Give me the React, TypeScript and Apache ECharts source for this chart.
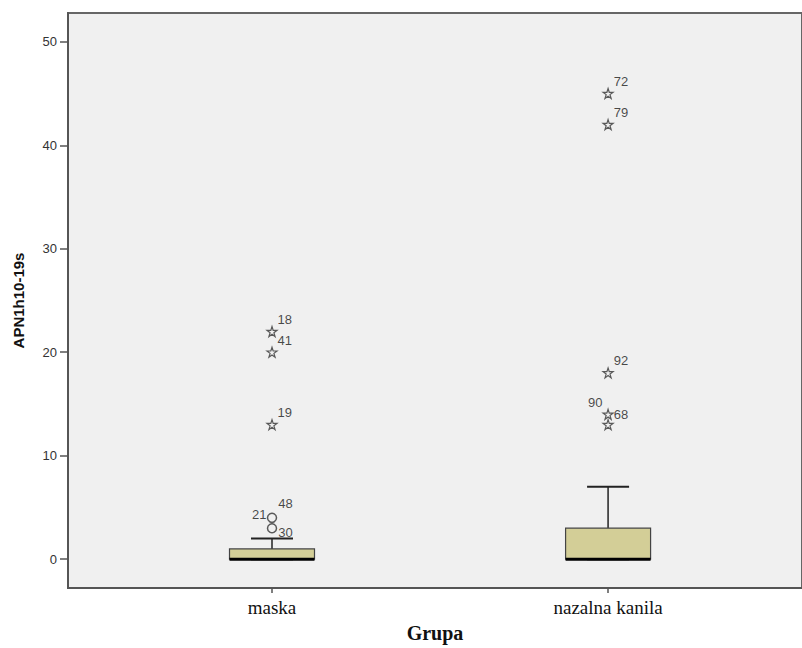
import React, { useEffect, useRef } from "react";
import * as echarts from "echarts";

const categories = ["maska", "nazalna kanila"];
const categoryPos = [1, 2];
// min, q1, median, q3, max (whiskers)
const boxMin = [0, 0];
const boxQ1 = [0, 0];
const boxMedian = [0, 0];
const boxQ3 = [1, 3];
const boxMax = [2, 7];

const yTicks = [0, 10, 20, 30, 40, 50];

const extremeX = [1, 1, 1, 2, 2, 2, 2, 2];
const extremeY = [22, 20, 13, 45, 42, 18, 14, 13];
const extremeIds = ["18", "41", "19", "72", "79", "92", "68", ""];

const mildX = [1, 1];
const mildY = [4, 3];
const mildIds = ["48", "30"];

const leftLabelX = [1, 2];
const leftLabelY = [4, 14];
const leftLabelIds = ["21", "90"];

const STAR =
  "path://M50,2 L61,36 L97,36 L68,57 L79,92 L50,71 L21,92 L32,57 L3,36 L39,36 Z";

export default function App() {
  const ref = useRef<HTMLDivElement>(null);
  useEffect(() => {
    if (!ref.current) return;
    const chart = echarts.init(ref.current, null, { renderer: "svg" });
    const boxData = categoryPos.map((x, i) => [
      x,
      boxMin[i],
      boxQ1[i],
      boxMedian[i],
      boxQ3[i],
      boxMax[i],
    ]);
    const labelFont = {
      fontFamily: "Liberation Sans, Arial, sans-serif",
      fontSize: 13,
      color: "#1a1a1a",
    };
    const extremeData = extremeX.map((x, i) => {
      const id = extremeIds[i];
      const sameSide = id === "68";
      return {
        value: [x, extremeY[i]],
        label: {
          show: id !== "",
          formatter: id,
          position: "right",
          distance: 0,
          offset: [0, sameSide ? 0 : -12],
          ...labelFont,
        },
      };
    });
    const mildData = mildX.map((x, i) => ({
      value: [x, mildY[i]],
      label: {
        show: true,
        formatter: mildIds[i],
        position: "right",
        distance: 1,
        offset: [0, mildIds[i] === "30" ? 4 : -14],
        ...labelFont,
      },
    }));
    const leftData = leftLabelX.map((x, i) => ({
      value: [x, leftLabelY[i]],
      label: {
        show: true,
        formatter: leftLabelIds[i],
        position: "left",
        distance: 1,
        offset: [0, leftLabelIds[i] === "21" ? -3 : -12],
        ...labelFont,
      },
    }));

    chart.setOption({
      animation: false,
      grid: {
        left: 68,
        right: -2,
        top: 13,
        bottom: 56,
        show: true,
        backgroundColor: "#f0f0f0",
        borderColor: "#666",
        borderWidth: 2,
      },
      xAxis: {
        type: "value",
        min: 0.393,
        max: 2.577,
        name: "Grupa",
        nameLocation: "middle",
        nameGap: 35,
        nameTextStyle: {
          fontFamily: "Liberation Serif, Times New Roman, serif",
          fontWeight: "bold",
          fontSize: 20,
          color: "#111",
        },
        splitLine: { show: false },
        axisLine: { show: true, onZero: false, lineStyle: { color: "#555", width: 2 } },
        axisTick: {
          show: true,
          customValues: categoryPos,
          length: 5,
          lineStyle: { color: "#555", width: 1.5 },
        },
        axisLabel: {
          customValues: categoryPos,
          formatter: (v: number) => categories[categoryPos.indexOf(v)] ?? "",
          margin: 10,
          fontFamily: "Liberation Serif, Times New Roman, serif",
          fontSize: 19,
          color: "#111",
        },
      },
      yAxis: {
        type: "value",
        min: -2.78,
        max: 52.78,
        name: "APN1h10-19s",
        nameLocation: "middle",
        nameGap: 42,
        nameTextStyle: {
          fontFamily: "Liberation Sans, Arial, sans-serif",
          fontWeight: "bold",
          fontSize: 15,
          color: "#111",
        },
        splitLine: { show: false },
        axisLine: { show: true, onZero: false, lineStyle: { color: "#555", width: 2 } },
        axisTick: {
          show: true,
          customValues: yTicks,
          length: 8,
          lineStyle: { color: "#555", width: 1.5 },
        },
        axisLabel: {
          customValues: yTicks,
          margin: 11,
          fontFamily: "Liberation Sans, Arial, sans-serif",
          fontSize: 13,
          color: "#333",
        },
      },
      series: [
        {
          type: "custom",
          data: boxData,
          encode: { x: 0, y: [1, 2, 3, 4, 5] },
          renderItem: (params: any, api: any) => {
            const x = api.value(0);
            const pMin = api.coord([x, api.value(1)]);
            const pQ1 = api.coord([x, api.value(2)]);
            const pMed = api.coord([x, api.value(3)]);
            const pQ3 = api.coord([x, api.value(4)]);
            const pMax = api.coord([x, api.value(5)]);
            const cx = pMed[0];
            const bw = 85;
            const cw = 42;
            const line = { stroke: "#222", lineWidth: 1.5 };
            return {
              type: "group",
              children: [
                { type: "line", shape: { x1: cx, y1: pQ3[1], x2: cx, y2: pMax[1] }, style: line },
                { type: "line", shape: { x1: cx - cw / 2, y1: pMax[1], x2: cx + cw / 2, y2: pMax[1] }, style: { stroke: "#222", lineWidth: 2 } },
                { type: "line", shape: { x1: cx, y1: pQ1[1], x2: cx, y2: pMin[1] }, style: line },
                { type: "line", shape: { x1: cx - cw / 2, y1: pMin[1], x2: cx + cw / 2, y2: pMin[1] }, style: { stroke: "#222", lineWidth: 2 } },
                {
                  type: "rect",
                  shape: { x: cx - bw / 2, y: pQ3[1], width: bw, height: pQ1[1] - pQ3[1] },
                  style: { fill: "#d3ce97", stroke: "#444", lineWidth: 1.2 },
                },
                {
                  type: "line",
                  shape: { x1: cx - bw / 2, y1: pMed[1], x2: cx + bw / 2, y2: pMed[1] },
                  style: { stroke: "#000", lineWidth: 3 },
                },
              ],
            };
          },
          z: 2,
        },
        {
          type: "scatter",
          data: extremeData,
          symbol: STAR,
          symbolSize: 10,
          itemStyle: { color: "rgba(0,0,0,0)", borderColor: "#333", borderWidth: 1.2 },
          z: 3,
        },
        {
          type: "scatter",
          data: mildData,
          symbol: "circle",
          symbolSize: 9,
          itemStyle: { color: "rgba(0,0,0,0)", borderColor: "#333", borderWidth: 1.5 },
          z: 3,
        },
        {
          type: "scatter",
          data: leftData,
          symbol: "circle",
          symbolSize: 9,
          itemStyle: { color: "rgba(0,0,0,0)", borderWidth: 0 },
          z: 3,
        },
      ],
    });
    return () => chart.dispose();
  }, []);
  return (
    <div
      ref={ref}
      style={{ position: "fixed", left: 0, top: 0, width: 802, height: 648, background: "#fff" }}
    />
  );
}
